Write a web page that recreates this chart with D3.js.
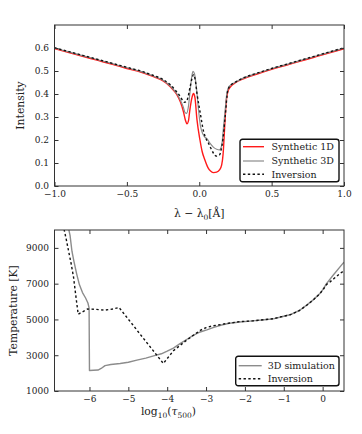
<!DOCTYPE html>
<html>
<head>
<meta charset="utf-8">
<script src="https://cdn.jsdelivr.net/npm/d3@7"></script>
<style>
  html, body { margin: 0; padding: 0; background: #fff; }
  svg, svg text { font-family: "DejaVu Serif", serif !important; }
  .tick text { font-size: 9px; fill: #222; }
  .tick line { stroke: #333; }
</style>
</head>
<body>
<div id="chart"></div>
<script>
// --- top panel: line profiles (wavelength offset in Å, intensity) ---
const synth1D = [
  [-1.0, 0.597], [-0.9, 0.580], [-0.8, 0.563], [-0.7, 0.546], [-0.6, 0.529],
  [-0.5, 0.511], [-0.4, 0.494], [-0.35, 0.483], [-0.3, 0.471], [-0.25, 0.457],
  [-0.2, 0.432], [-0.17, 0.410], [-0.15, 0.392], [-0.13, 0.365], [-0.11, 0.325],
  [-0.095, 0.285], [-0.085, 0.270], [-0.075, 0.282], [-0.065, 0.330],
  [-0.05, 0.385], [-0.04, 0.402], [-0.03, 0.385], [-0.016, 0.290],
  [0.005, 0.200], [0.02, 0.150], [0.039, 0.113], [0.06, 0.080], [0.08, 0.064],
  [0.1, 0.058], [0.12, 0.060], [0.14, 0.070], [0.155, 0.092], [0.165, 0.140],
  [0.175, 0.250], [0.185, 0.355], [0.2, 0.415], [0.22, 0.434], [0.25, 0.449],
  [0.3, 0.465], [0.4, 0.487], [0.5, 0.507], [0.6, 0.525], [0.7, 0.543],
  [0.8, 0.561], [0.9, 0.579], [1.0, 0.597]
];

const synth3D = [
  [-1.0, 0.600], [-0.9, 0.583], [-0.8, 0.566], [-0.7, 0.549], [-0.6, 0.532],
  [-0.5, 0.514], [-0.4, 0.497], [-0.35, 0.486], [-0.3, 0.474], [-0.25, 0.460],
  [-0.2, 0.435], [-0.17, 0.414], [-0.15, 0.397], [-0.13, 0.373], [-0.11, 0.343],
  [-0.097, 0.318], [-0.087, 0.316], [-0.075, 0.345], [-0.062, 0.420],
  [-0.052, 0.475], [-0.043, 0.498], [-0.033, 0.488], [-0.02, 0.430],
  [-0.005, 0.331], [0.008, 0.262], [0.018, 0.237], [0.035, 0.215],
  [0.053, 0.206], [0.075, 0.185], [0.099, 0.168], [0.12, 0.160], [0.14, 0.157],
  [0.15, 0.165], [0.158, 0.190], [0.168, 0.260], [0.179, 0.331],
  [0.19, 0.400], [0.202, 0.428], [0.22, 0.440], [0.25, 0.452], [0.3, 0.468],
  [0.4, 0.490], [0.5, 0.510], [0.6, 0.528], [0.7, 0.546], [0.8, 0.564],
  [0.9, 0.582], [1.0, 0.600]
];

const inversionProfile = [
  [-1.0, 0.601], [-0.9, 0.584], [-0.8, 0.567], [-0.7, 0.550], [-0.6, 0.533],
  [-0.5, 0.516], [-0.4, 0.499], [-0.35, 0.488], [-0.3, 0.477], [-0.25, 0.463],
  [-0.2, 0.440], [-0.17, 0.420], [-0.15, 0.405], [-0.13, 0.388], [-0.115, 0.372],
  [-0.103, 0.364], [-0.09, 0.366], [-0.078, 0.385], [-0.065, 0.425],
  [-0.05, 0.468], [-0.039, 0.484], [-0.028, 0.462], [-0.016, 0.404],
  [0.007, 0.317], [0.03, 0.237], [0.047, 0.205], [0.064, 0.186], [0.082, 0.162],
  [0.099, 0.142], [0.117, 0.130], [0.14, 0.135], [0.152, 0.160], [0.163, 0.200],
  [0.179, 0.302], [0.198, 0.418], [0.22, 0.440], [0.25, 0.452], [0.3, 0.469],
  [0.4, 0.491], [0.5, 0.511], [0.6, 0.529], [0.7, 0.547], [0.8, 0.565],
  [0.9, 0.583], [1.0, 0.601]
];

const topXTicks = [-1.0, -0.5, 0.0, 0.5, 1.0];
const topYTicks = [0.0, 0.1, 0.2, 0.3, 0.4, 0.5, 0.6];
const topLegend = ['Synthetic 1D', 'Synthetic 3D', 'Inversion'];

// --- bottom panel: temperature stratification (log10 tau500, K) ---
const sim3D = [
  [-6.56, 10300], [-6.50, 9700], [-6.45, 8800], [-6.40, 8250], [-6.33, 7550],
  [-6.26, 6950], [-6.18, 6500], [-6.10, 6200], [-6.04, 5920], [-6.01, 5650],
  [-6.00, 2150], [-5.90, 2160], [-5.78, 2170], [-5.70, 2260], [-5.60, 2420],
  [-5.45, 2480], [-5.21, 2540], [-5.00, 2610], [-4.78, 2725], [-4.55, 2840],
  [-4.35, 2960], [-4.15, 3080], [-4.00, 3230], [-3.84, 3400], [-3.67, 3650],
  [-3.50, 3880], [-3.32, 4120], [-3.15, 4300], [-2.98, 4420], [-2.80, 4560],
  [-2.60, 4690], [-2.40, 4790], [-2.13, 4860], [-1.80, 4920], [-1.50, 4980],
  [-1.27, 5030], [-1.05, 5150], [-0.84, 5260], [-0.60, 5500], [-0.41, 5800],
  [-0.25, 6080], [-0.07, 6450], [0.00, 6650], [0.10, 7000], [0.27, 7470],
  [0.49, 8050], [0.55, 8200]
];

const inversionTemp = [
  [-6.68, 10300], [-6.60, 9500], [-6.54, 8850], [-6.47, 8100], [-6.41, 7360],
  [-6.35, 6300], [-6.29, 5290], [-6.05, 5580], [-5.85, 5570], [-5.62, 5520],
  [-5.40, 5580], [-5.24, 5670], [-4.10, 2540], [-3.84, 3250], [-3.50, 3840],
  [-3.15, 4390], [-3.00, 4540], [-2.85, 4630], [-2.50, 4760], [-2.13, 4880],
  [-1.80, 4920], [-1.50, 4990], [-1.27, 5040], [-1.05, 5160], [-0.84, 5260],
  [-0.60, 5490], [-0.41, 5790], [-0.25, 6070], [-0.07, 6440], [0.00, 6630],
  [0.10, 6950], [0.19, 7100], [0.30, 7300], [0.45, 7570], [0.55, 7720]
];

const botXTicks = [-6, -5, -4, -3, -2, -1, 0];
const botYTicks = [1000, 3000, 5000, 7000, 9000];
const botLegend = ['3D simulation', 'Inversion'];

const W = 362, H = 434;
const svg = d3.select('#chart').append('svg')
  .attr('width', W)
  .attr('height', H);

const RED = '#ff1a1a';
const GRAY = '#8c8c8c';
const DOTS = '2.4,2.4';

function frameAxes(g, x, y, xTicks, yTicks, xFmt, yFmt, w, h) {
  const bottom = g.append('g')
    .attr('transform', `translate(0,${h})`)
    .call(d3.axisBottom(x).tickValues(xTicks).tickFormat(xFmt)
      .tickSizeInner(-4).tickSizeOuter(0).tickPadding(5));
  const left = g.append('g')
    .call(d3.axisLeft(y).tickValues(yTicks).tickFormat(yFmt)
      .tickSizeInner(-4).tickSizeOuter(0).tickPadding(5.5));
  const top = g.append('g')
    .call(d3.axisTop(x).tickValues(xTicks).tickFormat('')
      .tickSizeInner(-4).tickSizeOuter(0));
  const right = g.append('g')
    .attr('transform', `translate(${w},0)`)
    .call(d3.axisRight(y).tickValues(yTicks).tickFormat('')
      .tickSizeInner(-4).tickSizeOuter(0));
  [bottom, left, top, right].forEach(a => {
    a.select('.domain').remove();
    a.attr('font-family', null);
  });

  g.append('rect')
    .attr('width', w)
    .attr('height', h)
    .attr('fill', 'none')
    .attr('stroke', '#333')
    .attr('stroke-width', 1);
}

function drawLegend(g, items, styles, x0, y0, w, h, rowY, lineX0, lineX1, textX) {
  const lg = g.append('g').attr('transform', `translate(${x0},${y0})`);
  lg.append('rect')
    .attr('width', w)
    .attr('height', h)
    .attr('rx', 2.5)
    .attr('fill', '#fff')
    .attr('stroke', '#111')
    .attr('stroke-width', 1.4);
  items.forEach((label, i) => {
    const s = styles[i];
    lg.append('line')
      .attr('x1', lineX0).attr('x2', lineX1)
      .attr('y1', rowY[i]).attr('y2', rowY[i])
      .attr('stroke', s.color)
      .attr('stroke-width', s.width)
      .attr('stroke-dasharray', s.dash || null);
    lg.append('text')
      .attr('x', textX)
      .attr('y', rowY[i] + 3.3)
      .attr('font-size', '9.5px')
      .attr('fill', '#222')
      .text(label);
  });
}

// ---------------- top panel ----------------
{
  const m = { left: 54.5, top: 25, w: 289.5, h: 161 };
  const g = svg.append('g').attr('transform', `translate(${m.left},${m.top})`);
  const x = d3.scaleLinear().domain([-1, 1]).range([0, m.w]);
  const y = d3.scaleLinear().domain([0, 0.7]).range([m.h, 0]);

  g.append('clipPath').attr('id', 'clipTop')
    .append('rect').attr('width', m.w).attr('height', m.h);

  const line = d3.line()
    .x(d => x(d[0]))
    .y(d => y(d[1]))
    .curve(d3.curveMonotoneX);

  const plot = g.append('g').attr('clip-path', 'url(#clipTop)');
  plot.append('path').datum(synth1D)
    .attr('d', line).attr('fill', 'none')
    .attr('stroke', RED).attr('stroke-width', 1.4);
  plot.append('path').datum(synth3D)
    .attr('d', line).attr('fill', 'none')
    .attr('stroke', GRAY).attr('stroke-width', 1.2);
  plot.append('path').datum(inversionProfile)
    .attr('d', line).attr('fill', 'none')
    .attr('stroke', '#111').attr('stroke-width', 1.4)
    .attr('stroke-dasharray', DOTS);

  frameAxes(g, x, y, topXTicks, topYTicks, d3.format('.1f'), d3.format('.1f'), m.w, m.h);

  g.append('text')
    .attr('transform', `translate(${-31},${m.h / 2}) rotate(-90)`)
    .attr('text-anchor', 'middle')
    .attr('font-size', '10.8px')
    .attr('fill', '#222')
    .text('Intensity');

  const xl = g.append('text')
    .attr('x', m.w / 2)
    .attr('y', m.h + 31)
    .attr('text-anchor', 'middle')
    .attr('font-size', '10.8px')
    .attr('fill', '#222');
  xl.append('tspan').text('λ − λ');
  xl.append('tspan').attr('font-size', '7.5px').attr('dy', 2.5).text('0');
  xl.append('tspan').attr('dy', -2.5).text('[Å]');

  drawLegend(g, topLegend,
    [{ color: RED, width: 1.4 }, { color: GRAY, width: 1.2 }, { color: '#111', width: 1.4, dash: DOTS }],
    185.5, 114.3, 99, 42.4, [7.4, 21.7, 35], 3, 24, 31.5);
}

// ---------------- bottom panel ----------------
{
  const m = { left: 54.5, top: 230, w: 289.5, h: 161 };
  const g = svg.append('g').attr('transform', `translate(${m.left},${m.top})`);
  const x = d3.scaleLinear().domain([-6.9, 0.55]).range([0, m.w]);
  const y = d3.scaleLinear().domain([1000, 10000]).range([m.h, 0]);

  g.append('clipPath').attr('id', 'clipBot')
    .append('rect').attr('width', m.w).attr('height', m.h);

  const line = d3.line()
    .x(d => x(d[0]))
    .y(d => y(d[1]));

  const plot = g.append('g').attr('clip-path', 'url(#clipBot)');
  plot.append('path').datum(sim3D)
    .attr('d', line).attr('fill', 'none')
    .attr('stroke', GRAY).attr('stroke-width', 1.4)
    .attr('stroke-linejoin', 'round');
  plot.append('path').datum(inversionTemp)
    .attr('d', line).attr('fill', 'none')
    .attr('stroke', '#111').attr('stroke-width', 1.4)
    .attr('stroke-dasharray', DOTS);

  frameAxes(g, x, y, botXTicks, botYTicks, d3.format('d'), d3.format('d'), m.w, m.h);

  g.append('text')
    .attr('transform', `translate(${-37.5},${m.h / 2}) rotate(-90)`)
    .attr('text-anchor', 'middle')
    .attr('font-size', '10.8px')
    .attr('fill', '#222')
    .text('Temperature [K]');

  const xl = g.append('text')
    .attr('x', 114)
    .attr('y', m.h + 24)
    .attr('text-anchor', 'middle')
    .attr('font-size', '10.8px')
    .attr('fill', '#222');
  xl.append('tspan').text('log');
  xl.append('tspan').attr('font-size', '7.5px').attr('dy', 2.5).text('10');
  xl.append('tspan').attr('dy', -2.5).text('(');
  xl.append('tspan').attr('font-style', 'italic').text('τ');
  xl.append('tspan').attr('font-size', '7.5px').attr('dy', 2.5).text('500');
  xl.append('tspan').attr('dy', -2.5).text(')');

  drawLegend(g, botLegend,
    [{ color: GRAY, width: 1.4 }, { color: '#111', width: 1.4, dash: DOTS }],
    181.2, 126.3, 103.3, 29.4, [9.4, 22.4], 3, 26, 32);
}
</script>
</body>
</html>
